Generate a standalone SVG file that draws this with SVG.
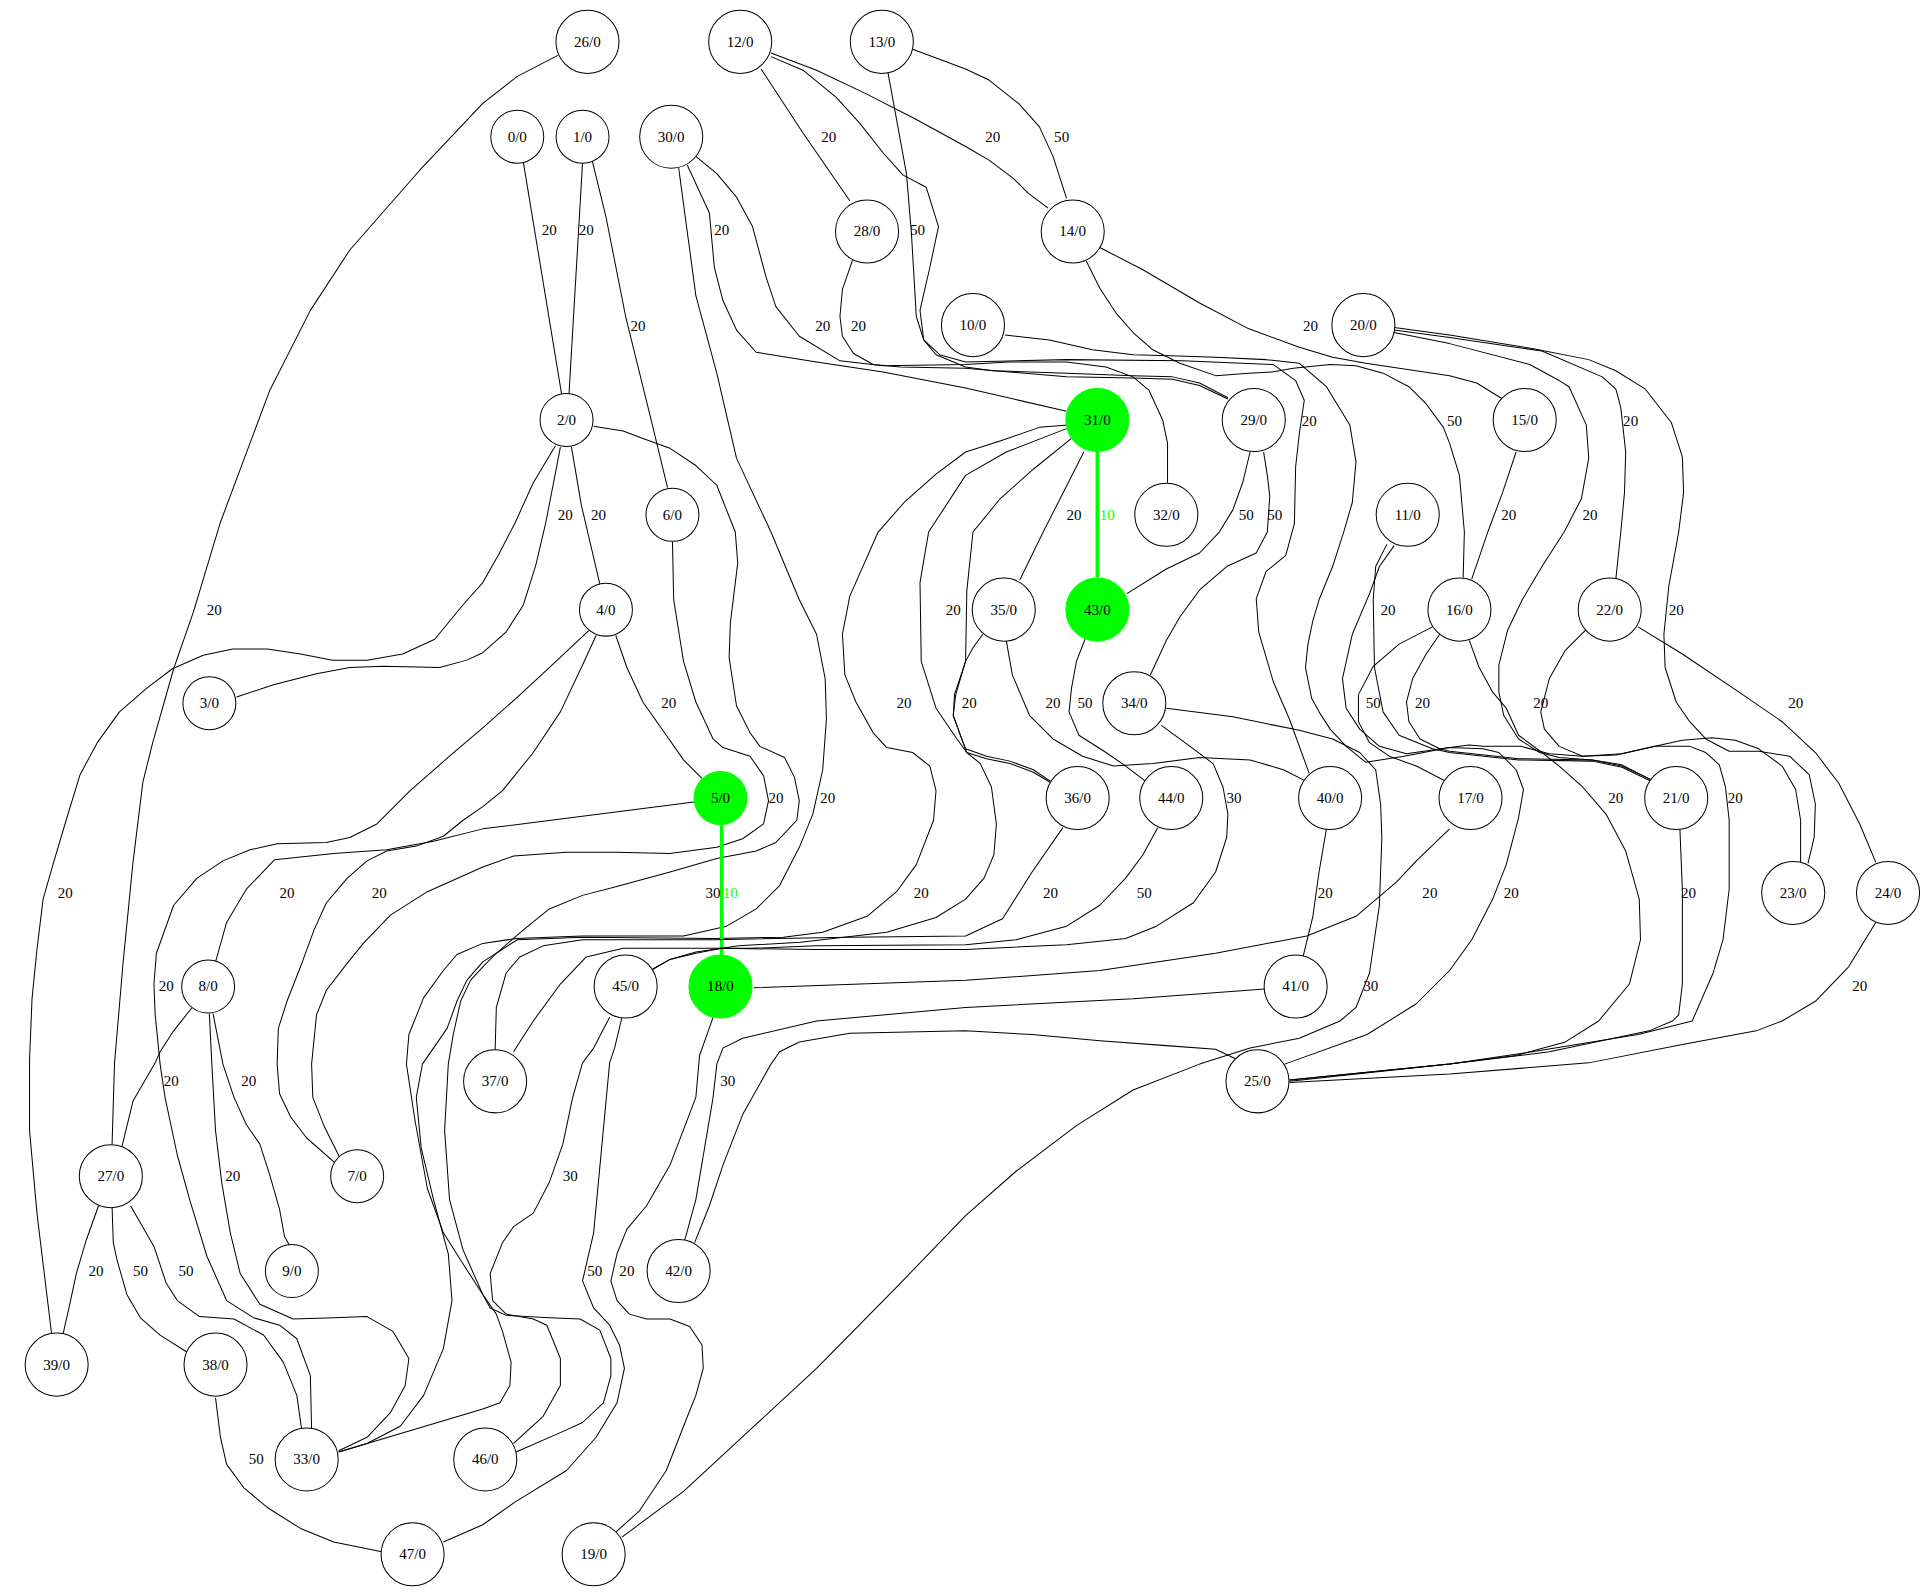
<svg xmlns="http://www.w3.org/2000/svg" width="1931" height="1595" viewBox="0 0 1931 1595">
<style>
.e path{fill:none;stroke:#000;stroke-width:0.82;stroke-linejoin:round}
.e path.g{stroke:#00ff00;stroke-width:3}
.node circle{fill:#fff;stroke:#000;stroke-width:0.82}
.node.hl circle{fill:#00ff00;stroke:#00ff00}
text{font-family:"Liberation Serif","Times New Roman",serif;font-size:12.2px;text-anchor:middle;fill:#000}
text.gl{fill:#00ff00}
</style>
<rect width="1931" height="1595" fill="#fff"/>
<g transform="scale(1.2316)">
<g id="edges" class="e">
<path d="M453,45 L420,62 L392,84 L341,138 L284,203 L252,252 L219,317 L179,424 L157,497 L141,543 L124,603 L116,635 L108,700 L100,781 L93,863 L91,929"/>
<path d="M618,56 L652,108 L690,163"/>
<path d="M626,43 L663,57 L703,76 L744,97 L784,119 L803,130 L823,145 L835,157 L851,169"/>
<path d="M741,40 L784,56 L803,65 L827,84 L844,103 L855,127 L866,161"/>
<path d="M425,132 L456,320"/>
<path d="M473,132 L462,320"/>
<path d="M481,131 L492,176 L508,257 L528,338 L542,396"/>
<path d="M558,134 L576,173 L580,217 L587,244 L598,268 L614,286 L663,294 L717,302 L784,315 L866,334"/>
<path d="M721,59 L736,141 L740,189 L744,257 L750,276 L760,288 L784,298 L806,301 L866,303 L920,305 L952,306 L974,311 L997,323"/>
<path d="M565,127 L582,141 L598,160 L611,184 L622,225 L630,249 L649,273 L682,293 L717,297 L784,296 L819,294 L866,294 L898,298 L920,306 L933,317 L944,341 L948,360 L948,392"/>
<path d="M693,209 L684,235 L682,257 L684,273 L693,287 L709,296 L731,298 L784,299 L866,306 L920,307 L952,308 L974,313 L997,324"/>
<path d="M626,46 L652,57 L679,79 L698,100 L717,124 L733,142 L752,152 L762,184 L755,217 L747,252 L750,276 L763,288 L784,294 L866,292 L960,293 L1034,296 L1052,309 L1059,325 L1055,352 L1052,379 L1051,425 L1044,451 L1028,464 L1020,486 L1022,513 L1034,554 L1047,584 L1063,628"/>
<path d="M893,201 L928,219 L974,246 L1014,267 L1055,282 L1082,290 L1109,295 L1136,299 L1177,305 L1199,311 L1220,324"/>
<path d="M816,272 L852,276 L887,284 L920,288 L957,289 L987,290 L1028,292 L1055,295 L1077,314 L1096,345 L1101,375 L1098,408 L1091,432 L1082,460 L1071,487 L1066,504 L1062,523 L1060,542 L1065,567 L1071,578 L1080,592 L1093,606 L1109,619 L1140,614 L1177,607 L1204,608 L1217,611 L1231,625 L1237,641 L1233,664 L1223,702 L1212,730 L1195,763 L1177,788 L1150,815 L1110,840 L1043,864"/>
<path d="M882,212 L893,234 L906,254 L920,270 L936,284 L958,295 L987,305 L1014,303 L1033,302 L1050,299 L1080,296 L1101,297 L1123,303 L1144,314 L1158,328 L1172,347 L1177,360 L1185,386 L1189,432 L1188,469"/>
<path d="M1132,268 L1177,274 L1252,285 L1301,306 L1312,316 L1316,331 L1320,367 L1319,400 L1316,432 L1312,470"/>
<path d="M1132,266 L1177,272 L1244,283 L1290,292 L1312,301 L1336,316 L1357,343 L1366,371 L1367,400 L1363,432 L1355,476 L1351,515 L1352,542 L1361,570 L1372,586 L1385,600 L1404,610 L1428,610 L1453,614 L1469,629 L1474,653 L1473,680 L1468,701"/>
<path d="M1132,270 L1177,279 L1242,296 L1266,309 L1274,314 L1288,345 L1290,372 L1284,405 L1270,432 L1252,460 L1236,487 L1224,512 L1217,540 L1217,562 L1221,581 L1233,600 L1250,611 L1266,615 L1293,617 L1317,622 L1343,634"/>
<path d="M455,363 L451,384 L443,425 L435,459 L425,491 L411,513 L392,530 L379,536 L357,542 L311,541 L284,542 L257,547 L222,556 L192,566"/>
<path d="M464,363 L472,410 L487,474"/>
<path d="M451,362 L433,392 L418,425 L405,450 L392,473 L376,491 L353,519 L327,531 L298,536 L270,536 L244,531 L217,527 L189,527 L165,532 L140,543 L119,559 L97,578 L79,603 L65,629 L54,665 L43,702 L35,730 L30,771 L26,811 L24,860 L24,918 L30,985 L42,1084"/>
<path d="M482,346 L506,350 L522,356 L544,364 L565,378 L582,394 L597,432 L599,457 L593,506 L592,534 L598,573 L609,595 L617,606 L637,615 L645,631 L649,650 L647,666 L630,684 L614,691 L582,697 L544,708 L500,720 L473,727 L446,738 L425,755 L403,774 L392,785 L382,796 L374,813 L368,840 L364,864 L361,918 L365,974 L376,1015 L392,1051 L403,1067 L408,1081 L415,1106 L414,1125 L406,1139 L392,1144 L275,1179"/>
<path d="M880,367 L847,432 L828,471"/>
<path class="g" d="M891,367 L891,469"/>
<path d="M1015,367 L1009,392 L1001,414 L990,432 L974,449 L947,462 L915,482"/>
<path d="M1026,367 L1029,386 L1031,403 L1029,432 L1020,449 L996,460 L974,479 L958,501 L947,520 L934,548"/>
<path d="M1231,367 L1220,400 L1208,432 L1195,470"/>
<path d="M866,348 L817,367 L784,386 L754,432 L747,473 L748,537 L760,575 L777,600 L785,611 L801,616 L820,620 L839,627 L854,636"/>
<path d="M500,516 L509,542 L522,570 L541,597 L555,617 L570,632"/>
<path d="M867,345 L844,347 L812,358 L784,367 L760,385 L735,407 L713,432 L690,484 L684,515 L686,548 L695,570 L709,595 L720,607 L741,611 L755,622 L760,642 L758,666 L744,702 L728,724 L704,744 L668,757 L636,761 L580,762 L473,761 L420,763 L392,781 L379,796 L371,813 L363,835 L343,864 L338,891 L342,932 L352,974 L364,1018 L367,1056 L360,1095 L344,1133 L325,1158 L298,1172 L275,1179"/>
<path d="M798,515 L790,526 L784,537 L775,564 L774,581 L782,603 L784,608 L801,614 L820,618 L839,625 L854,635"/>
<path d="M817,520 L822,548 L836,581 L855,600 L879,614 L904,622 L936,620 L974,615 L1015,617 L1042,625 L1060,634"/>
<path d="M881,519 L874,537 L870,559 L868,578 L876,597 L898,611 L914,622 L931,635"/>
<path d="M1163,509 L1136,523 L1115,541 L1103,564 L1103,586 L1112,603 L1128,614 L1150,622 L1177,636"/>
<path d="M1169,515 L1158,531 L1147,551 L1142,570 L1144,586 L1153,600 L1169,608 L1177,610 L1233,616 L1293,617 L1317,621 L1342,634"/>
<path d="M1288,511 L1271,528 L1258,551 L1251,578 L1254,592 L1266,606 L1285,614 L1312,613 L1339,607 L1366,601 L1390,599 L1409,601 L1428,608 L1447,622 L1458,641 L1462,666 L1462,700"/>
<path d="M1330,509 L1366,531 L1412,562 L1447,586 L1474,611 L1493,636 L1510,669 L1523,700"/>
<path d="M546,440 L547,487 L555,537 L565,570 L579,600 L587,607 L609,614 L620,630 L624,650 L620,669 L603,681 L582,688 L544,693 L500,692 L460,692 L417,695 L392,704 L347,724 L317,743 L295,766 L282,782 L265,804 L257,824 L253,864 L254,891 L263,914 L276,940"/>
<path d="M551,136 L565,240 L582,303 L598,372 L626,432 L649,487 L663,515 L670,551 L671,584 L668,625 L660,661 L649,688 L633,719 L614,738 L590,752 L555,760 L473,760 L419,762 L392,766 L371,775 L360,788 L344,810 L332,840 L330,864 L337,910 L347,965 L360,1001 L379,1031 L392,1051 L398,1062 L411,1068 L446,1070 L471,1071 L487,1080 L496,1103 L496,1117 L490,1139 L473,1155 L460,1161 L419,1179"/>
<path d="M943,589 L969,608 L985,620 L993,639 L997,661 L996,680 L987,708 L969,733 L939,752 L914,762 L866,767 L784,771 L663,771 L586,770 L565,774 L544,779 L530,787"/>
<path d="M1193,520 L1201,542 L1212,562 L1223,575 L1233,597 L1252,611 L1266,622 L1285,639 L1304,661 L1320,691 L1331,730 L1332,763 L1323,799 L1298,829 L1271,846 L1231,857 L1177,864 L1047,878"/>
<path d="M1132,443 L1120,460 L1112,482 L1098,515 L1092,542 L1090,551 L1093,575 L1104,592 L1120,606 L1142,612 L1177,607 L1193,605 L1204,606 L1235,606 L1258,612 L1285,614 L1317,612 L1344,606 L1372,606 L1385,611 L1396,621 L1401,639 L1404,666 L1404,722 L1399,763 L1391,790 L1374,829 L1330,840 L1244,854 L1177,864 L1047,877"/>
<path d="M1126,442 L1117,460 L1115,487 L1116,542 L1123,578 L1136,597 L1163,608 L1177,611 L1233,617 L1293,618 L1317,623 L1342,635"/>
<path d="M565,651 L392,673 L352,683 L314,690 L271,693 L223,698 L200,722 L184,749 L175,781"/>
<path d="M484,516 L473,540 L455,578 L433,611 L408,642 L392,655 L376,666 L360,679 L338,687 L314,691 L298,699 L282,713 L265,733 L255,755 L244,785 L233,813 L226,835 L225,864 L227,888 L236,907 L249,924 L273,945"/>
<path d="M478,512 L446,542 L419,567 L392,591 L365,614 L333,642 L306,669 L284,680 L265,684 L225,685 L203,690 L181,699 L160,713 L141,735 L127,774 L125,799 L126,824 L130,864 L134,891 L144,938 L154,974 L168,1020 L184,1056 L206,1070 L227,1076 L241,1087 L252,1117 L253,1161"/>
<path class="g" d="M586,670 L586,776"/>
<path d="M870,356 L839,381 L812,405 L790,432 L785,480 L784,537 L776,564 L774,581 L782,603 L785,611 L796,620 L805,639 L809,669 L807,694 L799,713 L784,730 L760,745 L720,757 L650,765 L600,768 L565,773 L544,779 L530,787"/>
<path d="M863,672 L838,708 L814,746 L784,760 L690,761 L580,763 L473,763 L441,768 L422,777 L411,790 L403,818 L402,853"/>
<path d="M940,672 L928,694 L914,713 L893,735 L866,752 L825,763 L784,767 L663,768 L609,770 L555,770 L506,770 L476,777 L455,799 L433,829 L417,854"/>
<path d="M1077,673 L1071,708 L1066,744 L1058,777"/>
<path d="M1177,673 L1150,699 L1134,716 L1101,744 L1061,760 L987,774 L893,788 L784,796 L612,802"/>
<path d="M1364,673 L1366,722 L1366,799 L1363,824 L1358,829 L1339,837 L1258,854 L1177,864 L1047,877"/>
<path d="M947,575 L1001,582 L1055,593 L1082,600 L1104,611 L1117,625 L1121,653 L1122,680 L1120,735 L1112,790 L1101,818 L1088,829 L1055,843 L1015,851 L974,864 L920,885 L874,914 L825,951 L784,987 L731,1042 L663,1111 L609,1161 L555,1211 L505,1248"/>
<path d="M1523,749 L1501,785 L1474,813 L1447,829 L1426,837 L1366,848 L1290,863 L1177,872 L1047,879"/>
<path d="M156,818 L141,837 L130,854 L126,863 L108,894 L99,931"/>
<path d="M173,823 L181,864 L190,891 L200,913 L211,929 L219,954 L227,982 L231,1004 L235,1011"/>
<path d="M1027,803 L920,811 L784,818 L663,829 L603,843 L587,851 L582,864 L579,891 L565,974 L556,1007"/>
<path d="M170,823 L172,864 L175,918 L180,960 L187,1001 L195,1034 L211,1059 L238,1071 L271,1070 L298,1069 L319,1081 L332,1103 L329,1125 L317,1147 L298,1167 L275,1178"/>
<path d="M495,826 L482,851 L473,863 L465,891 L457,929 L446,960 L433,985 L417,996 L408,1009 L398,1034 L400,1056 L411,1067 L433,1071 L444,1076 L455,1103 L455,1125 L441,1150 L417,1172"/>
<path d="M80,979 L70,1007 L62,1034 L56,1062 L51,1084"/>
<path d="M91,980 L92,1009 L95,1023 L103,1051 L114,1070 L130,1084 L152,1098"/>
<path d="M106,979 L125,1012 L135,1042 L144,1056 L162,1069 L190,1071 L214,1084 L230,1106 L241,1133 L245,1161"/>
<path d="M505,826 L499,851 L495,863 L482,1001 L473,1040 L482,1062 L495,1076 L503,1092 L507,1111 L501,1139 L484,1167 L460,1194 L419,1219 L392,1238 L360,1252"/>
<path d="M579,826 L568,857 L565,891 L544,946 L525,979 L509,998 L501,1018 L496,1040 L501,1056 L511,1067 L525,1071 L544,1071 L560,1077 L570,1092 L571,1111 L565,1133 L557,1153 L541,1194 L519,1227 L500,1244"/>
<path d="M175,1135 L179,1167 L184,1189 L198,1208 L217,1224 L244,1241 L271,1252 L310,1260"/>
<path d="M1004,860 L987,852 L947,849 L893,845 L838,840 L784,837 L690,839 L649,846 L633,854 L626,864 L603,905 L587,946 L576,979 L564,1009"/>
</g>
<g id="edge-labels">
<text x="673" y="115">20</text><text x="806" y="115">20</text><text x="862" y="115">50</text>
<text x="446" y="191">20</text><text x="476" y="191">20</text><text x="586" y="191">20</text><text x="745" y="191">50</text>
<text x="518" y="269">20</text><text x="668" y="269">20</text><text x="697" y="269">20</text><text x="1064" y="269">20</text>
<text x="1063" y="346">20</text><text x="1181" y="346">50</text><text x="1324" y="346">20</text>
<text x="459" y="422">20</text><text x="486" y="422">20</text><text x="872" y="422">20</text><text class="gl" x="899" y="422">10</text><text x="1012" y="422">50</text><text x="1035" y="422">50</text><text x="1225" y="422">20</text><text x="1291" y="422">20</text>
<text x="174" y="499">20</text><text x="774" y="499">20</text><text x="1127" y="499">20</text><text x="1361" y="499">20</text>
<text x="543" y="575">20</text><text x="734" y="575">20</text><text x="787" y="575">20</text><text x="855" y="575">20</text><text x="881" y="575">50</text><text x="1115" y="575">50</text><text x="1155" y="575">20</text><text x="1251" y="575">20</text><text x="1458" y="575">20</text>
<text x="630" y="652">20</text><text x="672" y="652">20</text><text x="1002" y="652">30</text><text x="1312" y="652">20</text><text x="1409" y="652">20</text>
<text x="53" y="729">20</text><text x="233" y="729">20</text><text x="308" y="729">20</text><text x="579" y="729">30</text><text class="gl" x="593" y="729">10</text><text x="748" y="729">20</text><text x="853" y="729">20</text><text x="929" y="729">50</text><text x="1076" y="729">20</text><text x="1161" y="729">20</text><text x="1227" y="729">20</text><text x="1371" y="729">20</text>
<text x="135" y="805">20</text><text x="1113" y="805">30</text><text x="1510" y="805">20</text>
<text x="139" y="882">20</text><text x="202" y="882">20</text><text x="591" y="882">30</text>
<text x="189" y="959">20</text><text x="463" y="959">30</text>
<text x="78" y="1036">20</text><text x="114" y="1036">50</text><text x="151" y="1036">50</text><text x="483" y="1036">50</text><text x="509" y="1036">20</text>
<text x="208" y="1189">50</text>
</g>
<g id="nodes">
<g id="n0" class="node"><circle cx="420" cy="111" r="21.5"/><text x="420" y="115">0/0</text></g>
<g id="n1" class="node"><circle cx="473" cy="111" r="21.5"/><text x="473" y="115">1/0</text></g>
<g id="n2" class="node"><circle cx="460" cy="341" r="21.5"/><text x="460" y="345">2/0</text></g>
<g id="n3" class="node"><circle cx="170" cy="571" r="21.5"/><text x="170" y="575">3/0</text></g>
<g id="n4" class="node"><circle cx="492" cy="495" r="21.5"/><text x="492" y="499">4/0</text></g>
<g id="n5" class="node hl"><circle cx="585" cy="648" r="21.5"/><text x="585" y="652">5/0</text></g>
<g id="n6" class="node"><circle cx="546" cy="418" r="21.5"/><text x="546" y="422">6/0</text></g>
<g id="n7" class="node"><circle cx="290" cy="955" r="21.5"/><text x="290" y="959">7/0</text></g>
<g id="n8" class="node"><circle cx="169" cy="801" r="21.5"/><text x="169" y="805">8/0</text></g>
<g id="n9" class="node"><circle cx="237" cy="1032" r="21.5"/><text x="237" y="1036">9/0</text></g>
<g id="n26" class="node"><circle cx="477" cy="34" r="25.6"/><text x="477" y="38">26/0</text></g>
<g id="n12" class="node"><circle cx="601" cy="34" r="25.6"/><text x="601" y="38">12/0</text></g>
<g id="n13" class="node"><circle cx="716" cy="34" r="25.6"/><text x="716" y="38">13/0</text></g>
<g id="n30" class="node"><circle cx="545" cy="111" r="25.6"/><text x="545" y="115">30/0</text></g>
<g id="n28" class="node"><circle cx="704" cy="188" r="25.6"/><text x="704" y="192">28/0</text></g>
<g id="n14" class="node"><circle cx="871" cy="188" r="25.6"/><text x="871" y="192">14/0</text></g>
<g id="n10" class="node"><circle cx="790" cy="264" r="25.6"/><text x="790" y="268">10/0</text></g>
<g id="n20" class="node"><circle cx="1107" cy="264" r="25.6"/><text x="1107" y="268">20/0</text></g>
<g id="n31" class="node hl"><circle cx="891" cy="341" r="25.6"/><text x="891" y="345">31/0</text></g>
<g id="n29" class="node"><circle cx="1018" cy="341" r="25.6"/><text x="1018" y="345">29/0</text></g>
<g id="n15" class="node"><circle cx="1238" cy="341" r="25.6"/><text x="1238" y="345">15/0</text></g>
<g id="n32" class="node"><circle cx="947" cy="418" r="25.6"/><text x="947" y="422">32/0</text></g>
<g id="n11" class="node"><circle cx="1143" cy="418" r="25.6"/><text x="1143" y="422">11/0</text></g>
<g id="n35" class="node"><circle cx="815" cy="495" r="25.6"/><text x="815" y="499">35/0</text></g>
<g id="n43" class="node hl"><circle cx="891" cy="495" r="25.6"/><text x="891" y="499">43/0</text></g>
<g id="n16" class="node"><circle cx="1185" cy="495" r="25.6"/><text x="1185" y="499">16/0</text></g>
<g id="n22" class="node"><circle cx="1307" cy="495" r="25.6"/><text x="1307" y="499">22/0</text></g>
<g id="n34" class="node"><circle cx="921" cy="571" r="25.6"/><text x="921" y="575">34/0</text></g>
<g id="n36" class="node"><circle cx="875" cy="648" r="25.6"/><text x="875" y="652">36/0</text></g>
<g id="n44" class="node"><circle cx="951" cy="648" r="25.6"/><text x="951" y="652">44/0</text></g>
<g id="n40" class="node"><circle cx="1080" cy="648" r="25.6"/><text x="1080" y="652">40/0</text></g>
<g id="n17" class="node"><circle cx="1194" cy="648" r="25.6"/><text x="1194" y="652">17/0</text></g>
<g id="n21" class="node"><circle cx="1361" cy="648" r="25.6"/><text x="1361" y="652">21/0</text></g>
<g id="n23" class="node"><circle cx="1456" cy="725" r="25.6"/><text x="1456" y="729">23/0</text></g>
<g id="n24" class="node"><circle cx="1533" cy="725" r="25.6"/><text x="1533" y="729">24/0</text></g>
<g id="n45" class="node"><circle cx="508" cy="801" r="25.6"/><text x="508" y="805">45/0</text></g>
<g id="n18" class="node hl"><circle cx="585" cy="801" r="25.6"/><text x="585" y="805">18/0</text></g>
<g id="n41" class="node"><circle cx="1052" cy="801" r="25.6"/><text x="1052" y="805">41/0</text></g>
<g id="n37" class="node"><circle cx="402" cy="878" r="25.6"/><text x="402" y="882">37/0</text></g>
<g id="n25" class="node"><circle cx="1021" cy="878" r="25.6"/><text x="1021" y="882">25/0</text></g>
<g id="n27" class="node"><circle cx="90" cy="955" r="25.6"/><text x="90" y="959">27/0</text></g>
<g id="n42" class="node"><circle cx="551" cy="1032" r="25.6"/><text x="551" y="1036">42/0</text></g>
<g id="n39" class="node"><circle cx="46" cy="1108" r="25.6"/><text x="46" y="1112">39/0</text></g>
<g id="n38" class="node"><circle cx="175" cy="1108" r="25.6"/><text x="175" y="1112">38/0</text></g>
<g id="n33" class="node"><circle cx="249" cy="1185" r="25.6"/><text x="249" y="1189">33/0</text></g>
<g id="n46" class="node"><circle cx="394" cy="1185" r="25.6"/><text x="394" y="1189">46/0</text></g>
<g id="n47" class="node"><circle cx="335" cy="1262" r="25.6"/><text x="335" y="1266">47/0</text></g>
<g id="n19" class="node"><circle cx="482" cy="1262" r="25.6"/><text x="482" y="1266">19/0</text></g>
</g>
</g>
</svg>
